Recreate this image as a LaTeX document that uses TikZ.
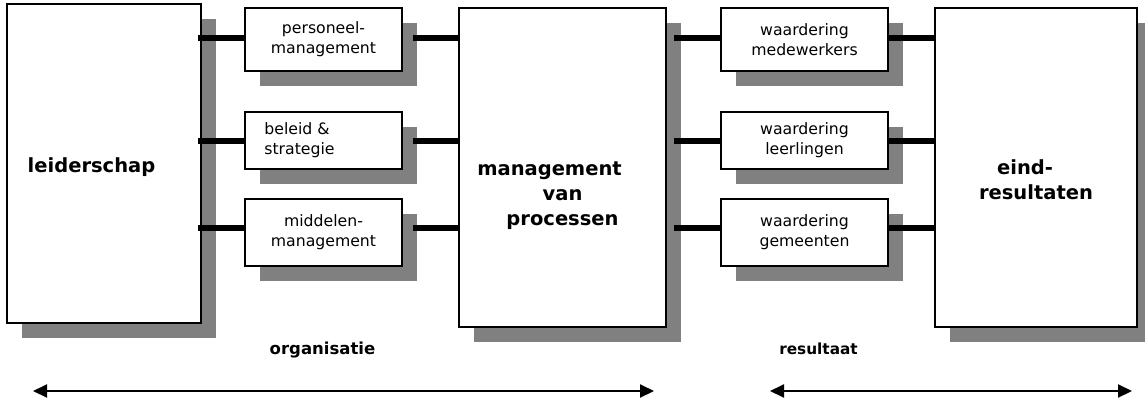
\documentclass[tikz,border=0pt]{standalone}
\usepackage{fontspec}
\setmainfont{DejaVu Sans}
\usetikzlibrary{arrows.meta,shadows}
\definecolor{shadowgray}{RGB}{128,128,128}
\begin{document}
\begin{tikzpicture}[x=1pt,y=-1pt,
  box/.style={draw=black, line width=1.5pt, fill=white, inner sep=0pt, outer sep=0pt,
    anchor=north west,
    drop shadow={shadow xshift=15pt, shadow yshift=-15pt, fill=shadowgray, opacity=1}},
  smallbox/.style={box, font=\fontsize{15.7}{20}\selectfont, align=center},
  bigbox/.style={box, font=\fontsize{19.5}{25}\selectfont\bfseries, align=center},
  conn/.style={line width=5.5pt, black},
  arr/.style={{Triangle[length=14pt,width=13pt]}-{Triangle[length=14pt,width=13pt]}, line width=2pt},
  lbl/.style={inner sep=0pt, anchor=base}
]
\useasboundingbox (0,0) rectangle (1145,402);

% big boxes
\node[bigbox, minimum width=194pt, minimum height=319pt] (ld) at (7,4)
  {\rule{0pt}{22pt}leiderschap\rule[-5pt]{0pt}{5pt}\rule{25pt}{0pt}};
\node[bigbox, minimum width=207pt, minimum height=319pt] (mp) at (459,8)
  {\rule{0pt}{70pt}management\rule{26pt}{0pt}\\van\\processen\rule[-5pt]{0pt}{5pt}};
\node[bigbox, minimum width=202pt, minimum height=319pt] (er) at (935,8)
  {\rule{0pt}{43pt}eind-\rule{22pt}{0pt}\\resultaten\rule[-5pt]{0pt}{5pt}};

% small boxes, left column
\node[smallbox, minimum width=157pt, minimum height=63pt] (pm) at (245,8) {personeel-\\management};
\node[smallbox, align=left, minimum width=157pt, minimum height=57pt] (bs) at (245,112) {beleid \&\\strategie\rule{48pt}{0pt}};
\node[smallbox, minimum width=157pt, minimum height=67pt] (mm) at (245,199) {middelen-\\management};

% small boxes, right column
\node[smallbox, minimum width=167pt, minimum height=63pt] (wm) at (721,8) {waardering\\medewerkers};
\node[smallbox, minimum width=167pt, minimum height=57pt] (wl) at (721,112) {waardering\\leerlingen};
\node[smallbox, minimum width=167pt, minimum height=67pt] (wg) at (721,199) {waardering\\gemeenten};

% connector rows
\coordinate (r1) at (0,38);
\coordinate (r2) at (0,141);
\coordinate (r3) at (0,228);

\draw[conn] ([xshift=-3pt]ld.east |- r1) -- (pm.west |- r1);
\draw[conn] ([xshift=-3pt]ld.east |- r2) -- (bs.west |- r2);
\draw[conn] ([xshift=-3pt]ld.east |- r3) -- (mm.west |- r3);

\draw[conn] ([xshift=11pt]pm.east |- r1) -- (mp.west |- r1);
\draw[conn] ([xshift=11pt]bs.east |- r2) -- (mp.west |- r2);
\draw[conn] ([xshift=11pt]mm.east |- r3) -- (mp.west |- r3);

\draw[conn] ([xshift=8pt]mp.east |- r1) -- (wm.west |- r1);
\draw[conn] ([xshift=8pt]mp.east |- r2) -- (wl.west |- r2);
\draw[conn] ([xshift=8pt]mp.east |- r3) -- (wg.west |- r3);

\draw[conn] (wm.east |- r1) -- (er.west |- r1);
\draw[conn] (wl.east |- r2) -- (er.west |- r2);
\draw[conn] (wg.east |- r3) -- (er.west |- r3);

% labels
\node[lbl, font=\fontsize{16.5}{20}\selectfont\bfseries] (org) at (322.5,354) {organisatie};
\node[lbl, font=\fontsize{15.3}{20}\selectfont\bfseries] (res) at (818.5,354) {resultaat};

% arrows
\coordinate (o1) at (33,391);
\coordinate (o2) at (654,391);
\coordinate (e1) at (770,391);
\coordinate (e2) at (1132,391);
\draw[arr] (o1) -- (o2);
\draw[arr] (e1) -- (e2);
\end{tikzpicture}
\end{document}
